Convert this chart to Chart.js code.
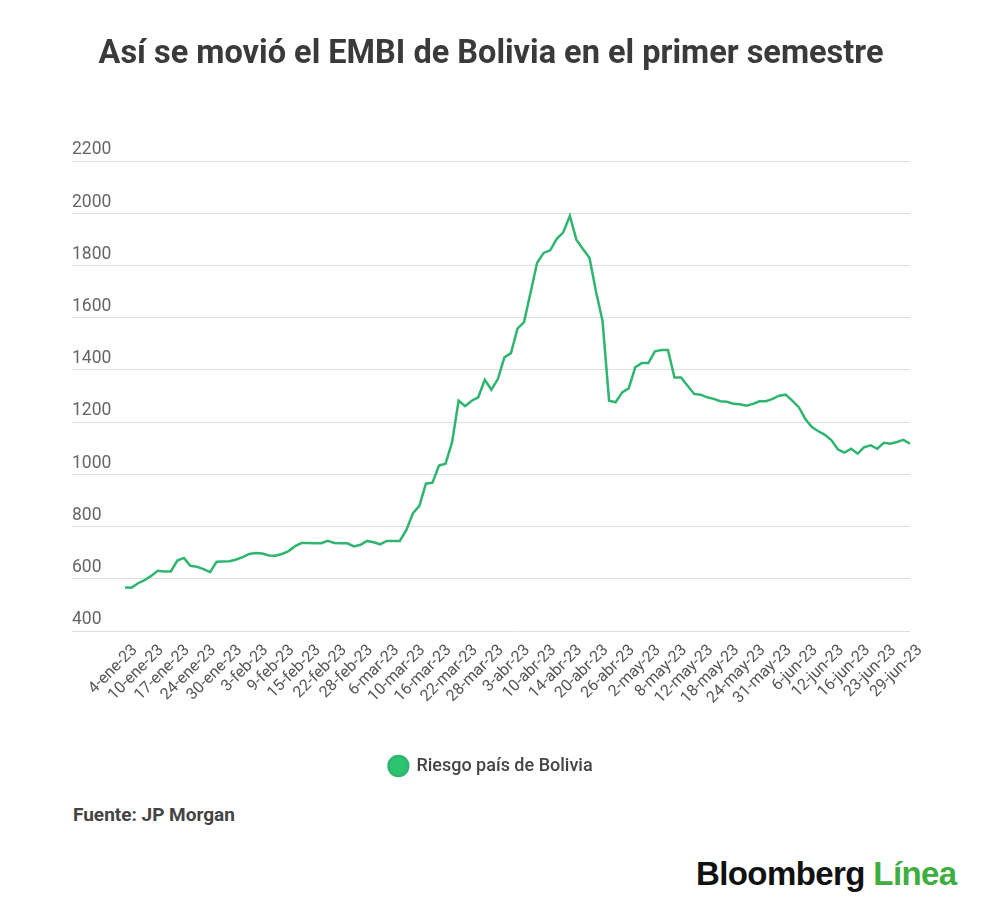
<!DOCTYPE html>
<html lang="es">
<head>
  <meta charset="UTF-8">
  <title>EMBI Bolivia</title>
  <script src="https://cdn.jsdelivr.net/npm/chart.js"></script>
  <style>
    body {
      margin: 0;
      background: #fff;
      font-family: Roboto, sans-serif;
    }
    .wrap {
      position: relative;
      width: 1000px;
      height: 920px;
    }
    canvas {
      position: absolute;
      left: 0;
      top: 0;
    }
    .fuente {
      position: absolute;
      left: 73px;
      top: 803px;
      font-size: 19px;
      font-weight: bold;
      color: #444;
    }
    .logo {
      position: absolute;
      left: 696px;
      top: 855px;
      font-family: "Liberation Sans", Arial, sans-serif;
      font-size: 33px;
      font-weight: bold;
      letter-spacing: -0.6px;
      color: #111;
    }
    .logo span {
      color: #3dae3f;
    }
  </style>
</head>
<body>
  <div class="wrap">
    <canvas id="chart" width="1000" height="800"></canvas>
    <div class="fuente">Fuente: JP Morgan</div>
    <div class="logo">Bloomberg <span>Línea</span></div>
  </div>
  <script>
    // labels shown under the axis, one every 4 sessions
    const tickLabels = [
      '4-ene-23', '10-ene-23', '17-ene-23', '24-ene-23', '30-ene-23',
      '3-feb-23', '9-feb-23', '15-feb-23', '22-feb-23', '28-feb-23',
      '6-mar-23', '10-mar-23', '16-mar-23', '22-mar-23', '28-mar-23',
      '3-abr-23', '10-abr-23', '14-abr-23', '20-abr-23', '26-abr-23',
      '2-may-23', '8-may-23', '12-may-23', '18-may-23', '24-may-23',
      '31-may-23', '6-jun-23', '12-jun-23', '16-jun-23', '23-jun-23',
      '29-jun-23'
    ];
    const labelEvery = 4;

    // EMBI spread, points básicos
    const riesgo = [
      567, 566, 583, 595, 611, 631, 628, 628, 670, 680,
      650, 646, 637, 625, 665, 666, 667, 674, 683, 695,
      699, 697, 689, 688, 695, 706, 725, 737, 737, 736,
      736, 745, 737, 736, 736, 724, 730, 745, 740, 732,
      745, 745, 745, 786, 850, 879, 964, 968, 1034, 1041,
      1123, 1282, 1261, 1282, 1295, 1362, 1324, 1365, 1448, 1464,
      1558, 1583, 1696, 1810, 1848, 1858, 1902, 1927, 1990, 1899,
      1863, 1829, 1700, 1587, 1282, 1276, 1314, 1329, 1410, 1426,
      1426, 1471, 1476, 1476, 1371, 1371, 1339, 1308, 1305, 1295,
      1289, 1280, 1278, 1270, 1268, 1263, 1270, 1280, 1280, 1289,
      1301, 1305, 1282, 1257, 1212, 1181, 1165, 1151, 1130, 1095,
      1083, 1098, 1079, 1104, 1111, 1098, 1121, 1117, 1124, 1132,
      1117
    ];

    const categories = riesgo.map((_, i) =>
      i % labelEvery === 0 ? tickLabels[i / labelEvery] : ''
    );

    Chart.defaults.font.family = 'Roboto, sans-serif';

    new Chart(document.getElementById('chart'), {
      type: 'line',
      data: {
        labels: categories,
        datasets: [{
          label: 'Riesgo país de Bolivia',
          data: riesgo,
          borderColor: '#2fb56f',
          backgroundColor: '#2cc46e',
          borderWidth: 2.5,
          pointRadius: 0,
          tension: 0
        }]
      },
      options: {
        responsive: false,
        animation: false,
        layout: {
          padding: { left: 72, right: 90, top: 0, bottom: 15 }
        },
        scales: {
          x: {
            grid: { display: false },
            border: { display: false },
            ticks: {
              autoSkip: false,
              minRotation: 45,
              maxRotation: 45,
              padding: 2,
              labelOffset: 10,
              color: '#555',
              font: { size: 16 }
            },
            afterFit: s => { s.height = 116; }
          },
          y: {
            min: 400,
            max: 2200,
            border: { display: false },
            grid: { color: '#dedede', tickLength: 53 },
            ticks: {
              stepSize: 200,
              crossAlign: 'far',
              labelOffset: -11,
              padding: 0,
              color: '#666',
              font: { size: 17.5 },
              callback: v => String(v)
            },
            afterFit: s => { s.width = 53; }
          }
        },
        plugins: {
          title: {
            display: true,
            text: 'Así se movió el EMBI de Bolivia en el primer semestre',
            color: '#3a3a3a',
            font: { size: 32.5, weight: 'bold' },
            padding: { top: 35, bottom: 87 }
          },
          legend: {
            position: 'bottom',
            labels: {
              usePointStyle: true,
              pointStyle: 'circle',
              boxHeight: 14,
              padding: 10,
              color: '#444',
              font: { size: 18, weight: '500' }
            }
          },
          tooltip: { enabled: false }
        }
      }
    });
  </script>
</body>
</html>
